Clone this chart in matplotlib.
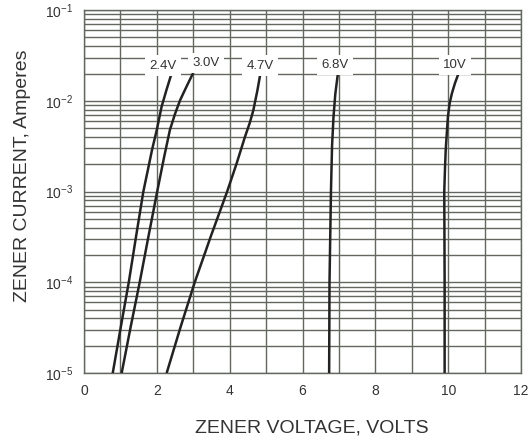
import matplotlib
matplotlib.use("Agg")
import matplotlib.pyplot as plt
from matplotlib.ticker import FixedLocator, NullFormatter

plt.rcParams['font.family'] = ['Liberation Sans', 'DejaVu Sans']
plt.rcParams['mathtext.fontset'] = 'custom'
plt.rcParams['mathtext.rm'] = 'Liberation Sans'
plt.rcParams['mathtext.it'] = 'Liberation Sans'

# zener curves: voltage (V) vs current (A)
v_24 = [0.79, 1.01, 1.23, 1.43, 1.63, 1.75, 1.87, 2.0, 2.13, 2.26, 2.39]
i_24 = [1e-5, 3.2e-5, 1e-4, 3.2e-4, 1e-3, 1.7e-3, 2.9e-3, 4.8e-3, 8.6e-3, 1.3e-2, 1.92e-2]

v_30 = [1.035, 1.28, 1.53, 1.77, 2.01, 2.2, 2.36, 2.5, 2.64, 2.82, 3.0]
i_30 = [1e-5, 3.2e-5, 1e-4, 3.2e-4, 1e-3, 2.4e-3, 4.8e-3, 7.2e-3, 1.02e-2, 1.45e-2, 2.04e-2]

v_47 = [2.27, 2.65, 3.04, 3.48, 3.93, 4.19, 4.42, 4.55, 4.65, 4.76, 4.84]
i_47 = [1e-5, 3.2e-5, 1e-4, 3.2e-4, 1e-3, 2.04e-3, 4.02e-3, 5.7e-3, 7.9e-3, 1.3e-2, 1.97e-2]

v_68 = [6.73, 6.74, 6.76, 6.78, 6.81, 6.85, 6.9, 6.97]
i_68 = [1e-5, 1e-4, 3.2e-4, 1e-3, 3.2e-3, 6.7e-3, 1.2e-2, 2.0e-2]

v_10 = [9.9, 9.9, 9.89, 9.91, 9.93, 9.99, 10.04, 10.10, 10.18, 10.28]
i_10 = [1e-5, 1e-4, 1e-3, 1.8e-3, 2.9e-3, 6.7e-3, 9.5e-3, 1.21e-2, 1.55e-2, 2.0e-2]

labels = ['2.4V', '3.0V', '4.7V', '6.8V', '10V']
label_x = [2.17, 3.35, 4.84, 6.9, 10.19]
label_y = [2.45e-2, 2.6e-2, 2.45e-2, 2.5e-2, 2.5e-2]

fig = plt.figure(figsize=(5.28, 4.41), dpi=100)
ax = fig.add_axes([0.159, 0.154, 0.828, 0.823])

grid_c = '#62675f'
curves = [(v_24, i_24), (v_30, i_30), (v_47, i_47), (v_68, i_68), (v_10, i_10)]
for v, i in curves:
    ax.plot(v, i, color='#222222', lw=1.8, solid_capstyle='butt',
            solid_joinstyle='round', zorder=3)

for t, x, y in zip(labels, label_x, label_y):
    ax.text(x, y, t, fontsize=9.5, color='#333333', ha='center', va='center', zorder=4,
            bbox=dict(facecolor='white', edgecolor='none', pad=3.0))

ax.set_yscale('log')
ax.set_xlim(0, 12)
ax.set_ylim(1e-5, 1e-1)
ax.xaxis.set_major_locator(FixedLocator([0, 2, 4, 6, 8, 10, 12]))
ax.xaxis.set_minor_locator(FixedLocator([1, 3, 5, 7, 9, 11]))
ax.set_yticks([1e-5, 1e-4, 1e-3, 1e-2, 1e-1])
ax.set_yticklabels([r'$10^{-5}$', r'$10^{-4}$', r'$10^{-3}$', r'$10^{-2}$', r'$10^{-1}$'])
ax.yaxis.set_minor_formatter(NullFormatter())

ax.grid(True, which='both', color=grid_c, lw=1.0)
ax.tick_params(which='both', length=0, labelsize=10, labelcolor='#333333', pad=8)
for s in ax.spines.values():
    s.set_color(grid_c)
    s.set_linewidth(1.0)

ax.set_xlabel('ZENER VOLTAGE, VOLTS', fontsize=14, color='#333333')
ax.set_ylabel('ZENER CURRENT, Amperes', fontsize=14, color='#333333')
ax.xaxis.set_label_coords(0.522, -0.127)
ax.yaxis.set_label_coords(-0.121, 0.543)

fig.savefig('out.png', dpi=100)
